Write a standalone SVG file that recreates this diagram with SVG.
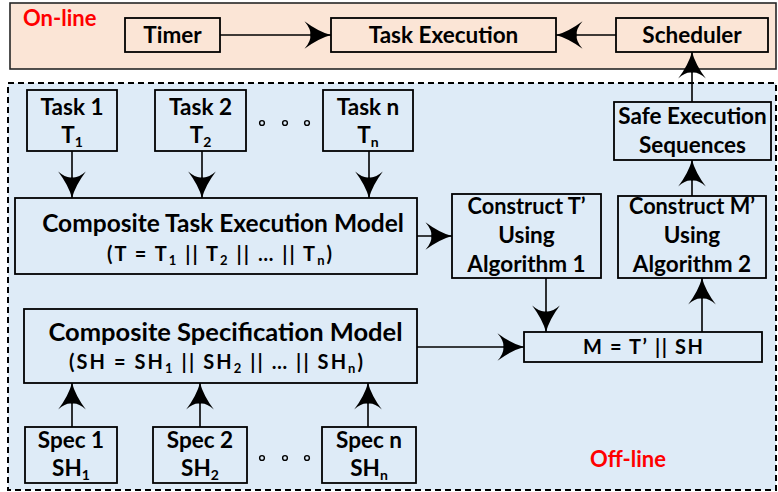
<svg xmlns="http://www.w3.org/2000/svg" width="778" height="492" viewBox="0 0 778 492">
  <style>
    .zone-on { fill: #fbe5d6; stroke: #262626; stroke-width: 1.6; }
    .zone-off { fill: #deebf7; stroke: #000; stroke-width: 2; stroke-dasharray: 6 4; }
    .box { fill: none; stroke: #000; stroke-width: 1.8; }
    .lbl { font-family: Lato, "Liberation Sans", sans-serif; font-weight: 700; fill: #000; text-anchor: middle; }
    .t22 { font-size: 22.5px; }
    .t20 { font-size: 20px; }
    .zone-lbl { font-family: Lato, "Liberation Sans", sans-serif; font-weight: 700; font-size: 22px; fill: #ff0000; }
    .wire { fill: none; stroke: #000; stroke-width: 1.6; marker-end: url(#head); }
    .dot { fill: none; stroke: #000; stroke-width: 1.4; }
  </style>
  <defs>
    <marker id="head" markerUnits="userSpaceOnUse" markerWidth="30" markerHeight="30" viewBox="-24 -13 26 26" refX="0" refY="0" orient="auto">
      <path d="M0,0 Q-11,-3 -23,-12 Q-17,-5 -18,0 Q-17,5 -23,12 Q-11,3 0,0 Z" fill="#000"/>
    </marker>
  </defs>

  <!-- run-time zone -->
  <rect class="zone-on" x="10" y="3" width="766" height="66"/>
  <text class="zone-lbl" x="23" y="26">On-line</text>

  <!-- design-time zone -->
  <rect class="zone-off" x="8" y="83" width="768" height="407"/>
  <text class="zone-lbl" x="628" y="467" text-anchor="middle">Off-line</text>

  <g id="timer">
    <rect class="box" x="125" y="18" width="95" height="34"/>
    <text class="lbl t22" x="172.5" y="43">Timer</text>
  </g>
  <g id="task-execution">
    <rect class="box" x="331" y="18" width="225" height="34"/>
    <text class="lbl t22" x="443.5" y="43">Task Execution</text>
  </g>
  <g id="scheduler">
    <rect class="box" x="616" y="18" width="152" height="34"/>
    <text class="lbl t22" x="692" y="43">Scheduler</text>
  </g>

  <g id="task-1">
    <rect class="box" x="27" y="90" width="90" height="61"/>
    <text class="lbl t22" x="72" y="115">Task 1</text>
    <text class="lbl t22" x="72" y="143">T<tspan font-size="14" dy="4">1</tspan></text>
  </g>
  <g id="task-2">
    <rect class="box" x="155" y="90" width="91" height="61"/>
    <text class="lbl t22" x="200.5" y="115">Task 2</text>
    <text class="lbl t22" x="200.5" y="143">T<tspan font-size="14" dy="4">2</tspan></text>
  </g>
  <g id="task-n">
    <rect class="box" x="323" y="90" width="90" height="61"/>
    <text class="lbl t22" x="368" y="115">Task n</text>
    <text class="lbl t22" x="368" y="143">T<tspan font-size="14" dy="4">n</tspan></text>
  </g>
  <g id="task-dots">
    <circle class="dot" cx="262" cy="123" r="2.4"/>
    <circle class="dot" cx="285" cy="123" r="2.4"/>
    <circle class="dot" cx="307" cy="123" r="2.4"/>
  </g>

  <g id="composite-task-model">
    <rect class="box" x="15" y="198" width="402" height="76"/>
    <text class="lbl" font-size="24.5" x="223" y="232">Composite Task Execution Model</text>
    <text class="lbl t20" x="219.5" y="261" textLength="225" lengthAdjust="spacing">(T = T<tspan font-size="13" dy="4">1</tspan><tspan dy="-4"> || T</tspan><tspan font-size="13" dy="4">2</tspan><tspan dy="-4"> || … || T</tspan><tspan font-size="13" dy="4">n</tspan><tspan dy="-4">)</tspan></text>
  </g>

  <g id="construct-t-prime">
    <rect class="box" x="452" y="194" width="149" height="84"/>
    <text class="lbl t22" x="526.5" y="214" textLength="118" lengthAdjust="spacingAndGlyphs">Construct T’</text>
    <text class="lbl t22" x="526.5" y="243">Using</text>
    <text class="lbl t22" x="526.5" y="272">Algorithm 1</text>
  </g>

  <g id="construct-m-prime">
    <rect class="box" x="618" y="196" width="148" height="82"/>
    <text class="lbl t22" x="692" y="214" textLength="126" lengthAdjust="spacingAndGlyphs">Construct M’</text>
    <text class="lbl t22" x="692" y="243">Using</text>
    <text class="lbl t22" x="692" y="272">Algorithm 2</text>
  </g>

  <g id="safe-sequences">
    <rect class="box" x="614" y="102" width="157" height="58"/>
    <text class="lbl t22" x="692.5" y="124">Safe Execution</text>
    <text class="lbl t22" x="692.5" y="153">Sequences</text>
  </g>

  <g id="composite-spec-model">
    <rect class="box" x="24" y="309" width="393" height="74"/>
    <text class="lbl" font-size="25.5" x="225.5" y="341">Composite Specification Model</text>
    <text class="lbl t20" x="216" y="369" textLength="294" lengthAdjust="spacing">(SH = SH<tspan font-size="13" dy="4">1</tspan><tspan dy="-4"> || SH</tspan><tspan font-size="13" dy="4">2</tspan><tspan dy="-4"> || … || SH</tspan><tspan font-size="13" dy="4">n</tspan><tspan dy="-4">)</tspan></text>
  </g>

  <g id="product-model">
    <rect class="box" x="524" y="332" width="238" height="30"/>
    <text class="lbl t20" x="643" y="354" textLength="120" lengthAdjust="spacing">M = T’ || SH</text>
  </g>

  <g id="spec-1">
    <rect class="box" x="25" y="427" width="92" height="56"/>
    <text class="lbl t22" x="71" y="448">Spec 1</text>
    <text class="lbl t22" x="71" y="476">SH<tspan font-size="14" dy="4">1</tspan></text>
  </g>
  <g id="spec-2">
    <rect class="box" x="153" y="427" width="94" height="56"/>
    <text class="lbl t22" x="200" y="448">Spec 2</text>
    <text class="lbl t22" x="200" y="476">SH<tspan font-size="14" dy="4">2</tspan></text>
  </g>
  <g id="spec-n">
    <rect class="box" x="322" y="427" width="94" height="56"/>
    <text class="lbl t22" x="369" y="448">Spec n</text>
    <text class="lbl t22" x="369" y="476">SH<tspan font-size="14" dy="4">n</tspan></text>
  </g>
  <g id="spec-dots">
    <circle class="dot" cx="262" cy="458" r="2.4"/>
    <circle class="dot" cx="285" cy="458" r="2.4"/>
    <circle class="dot" cx="307" cy="458" r="2.4"/>
  </g>

  <g id="connectors">
    <line class="wire" x1="220" y1="35" x2="331" y2="35"/>
    <line class="wire" x1="616" y1="35" x2="556" y2="35"/>
    <line class="wire" x1="692" y1="102" x2="692" y2="52"/>
    <line class="wire" x1="692" y1="196" x2="692" y2="160"/>
    <line class="wire" x1="72" y1="151" x2="72" y2="198"/>
    <line class="wire" x1="202" y1="151" x2="202" y2="198"/>
    <line class="wire" x1="369" y1="151" x2="369" y2="198"/>
    <line class="wire" x1="417" y1="236" x2="452" y2="236"/>
    <line class="wire" x1="546" y1="278" x2="546" y2="332"/>
    <line class="wire" x1="702" y1="332" x2="702" y2="278"/>
    <line class="wire" x1="417" y1="347" x2="524" y2="347"/>
    <line class="wire" x1="72" y1="427" x2="72" y2="383"/>
    <line class="wire" x1="200" y1="427" x2="200" y2="383"/>
    <line class="wire" x1="368" y1="427" x2="368" y2="383"/>
  </g>
</svg>
